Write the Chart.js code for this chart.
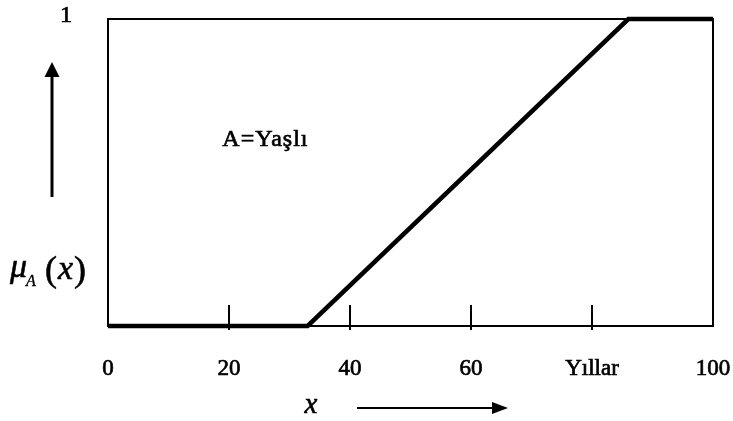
<!DOCTYPE html>
<html>
<head>
<meta charset="utf-8">
<script src="https://cdn.jsdelivr.net/npm/chart.js@4.4.1/dist/chart.umd.min.js"></script>
<style>
  html, body { margin: 0; padding: 0; background: #fff; }
  #wrap { width: 733px; height: 421px; position: relative; }
</style>
</head>
<body>
<div id="wrap"><canvas id="membershipChart"></canvas></div>
<script>
// "Yaşlı" (old) fuzzy set: membership degree over age
const ages = [0, 33, 86, 100];
const membership = [0, 0, 1, 1];
const tickAges = [20, 40, 60, 80];
const xTickLabels = { 0: '0', 20: '20', 40: '40', 60: '60', 80: 'Yıllar', 100: '100' };
const yTickLabels = { 1: '1' };
const setLabel = 'A=Yaşlı';

const serif = '"Liberation Serif", "DejaVu Serif", serif';

// keep the plot box fixed: no extra room for overhanging tick labels
const noPadding = s => { s.paddingTop = s.paddingBottom = s.paddingLeft = s.paddingRight = 0; };

// filled text with a thin outline so it reads a little heavier
function inkText(ctx, txt, x, y, w) {
    ctx.fillText(txt, x, y);
    ctx.lineWidth = w;
    ctx.strokeText(txt, x, y);
}

// box frame, inner tick marks, set label and axis arrows
const decorations = {
    id: 'decorations',
    beforeDatasetsDraw(chart) {
        const { ctx, chartArea: a, scales } = chart;
        ctx.save();
        ctx.strokeStyle = '#000';
        ctx.lineWidth = 2;
        ctx.strokeRect(a.left, a.top, a.right - a.left, a.bottom - a.top);

        tickAges.forEach(v => {
            const px = Math.round(scales.x.getPixelForValue(v));
            ctx.beginPath();
            ctx.moveTo(px, a.bottom - 21);
            ctx.lineTo(px, a.bottom + 4);
            ctx.stroke();
        });
        ctx.restore();
    },
    afterDraw(chart) {
        const { ctx, scales } = chart;
        ctx.save();
        ctx.fillStyle = '#000';
        ctx.strokeStyle = '#000';

        // set name inside the box
        ctx.font = '24px ' + serif;
        ctx.letterSpacing = '1px';
        ctx.textBaseline = 'alphabetic';
        ctx.textAlign = 'left';
        inkText(ctx, setLabel, scales.x.getPixelForValue(18.9), 146, 0.7);
        ctx.letterSpacing = '0px';

        // vertical arrow
        ctx.lineWidth = 3;
        ctx.beginPath();
        ctx.moveTo(52, 197);
        ctx.lineTo(52, 72);
        ctx.stroke();
        ctx.beginPath();
        ctx.moveTo(52, 62);
        ctx.lineTo(44.5, 77);
        ctx.lineTo(59.5, 77);
        ctx.closePath();
        ctx.fill();

        // μ_A(x)
        ctx.font = 'italic 34px ' + serif;
        inkText(ctx, 'μ', 10, 277, 0.6);
        ctx.font = 'italic 16px ' + serif;
        inkText(ctx, 'A', 26, 286, 0.4);
        ctx.font = '36px ' + serif;
        inkText(ctx, '(', 45, 281, 0.6);
        ctx.font = 'italic 34px ' + serif;
        inkText(ctx, 'x', 58, 279, 0.6);
        ctx.font = '36px ' + serif;
        inkText(ctx, ')', 74, 281, 0.6);

        // x with right arrow
        ctx.font = 'italic 29px ' + serif;
        ctx.textAlign = 'center';
        inkText(ctx, 'x', 311, 413, 0.6);
        ctx.lineWidth = 2;
        ctx.beginPath();
        ctx.moveTo(357, 408);
        ctx.lineTo(494, 408);
        ctx.stroke();
        ctx.beginPath();
        ctx.moveTo(508, 408);
        ctx.lineTo(492, 402);
        ctx.lineTo(492, 414);
        ctx.closePath();
        ctx.fill();
        ctx.restore();
    }
};

new Chart(document.getElementById('membershipChart'), {
    type: 'line',
    data: {
        datasets: [{
            data: ages.map((a, i) => ({ x: a, y: membership[i] })),
            borderColor: '#000',
            borderWidth: 4.5,
            pointRadius: 0,
            tension: 0,
            fill: false,
            clip: false
        }]
    },
    options: {
        responsive: true,
        maintainAspectRatio: false,
        animation: false,
        layout: { padding: { top: 19, right: 20, left: 0, bottom: 0 } },
        plugins: { legend: { display: false }, tooltip: { enabled: false } },
        scales: {
            x: {
                type: 'linear',
                min: 0,
                max: 100,
                grid: { display: false, drawTicks: false },
                border: { display: false },
                afterBuildTicks: s => { s.ticks = Object.keys(xTickLabels).map(v => ({ value: +v })); },
                afterFit: s => { s.height = 95; noPadding(s); },
                ticks: {
                    color: '#000',
                    padding: 29,
                    textStrokeColor: '#000',
                    textStrokeWidth: 0.7,
                    font: { family: serif, size: 23 },
                    callback: v => xTickLabels[v] ?? ''
                }
            },
            y: {
                type: 'linear',
                min: 0,
                max: 1,
                grid: { display: false, drawTicks: false },
                border: { display: false },
                afterBuildTicks: s => { s.ticks = [{ value: 1 }]; },
                afterFit: s => { s.width = 108; noPadding(s); },
                ticks: {
                    color: '#000',
                    padding: 36,
                    labelOffset: -3,
                    textStrokeColor: '#000',
                    textStrokeWidth: 0.7,
                    font: { family: serif, size: 24 },
                    callback: v => yTickLabels[v] ?? ''
                }
            }
        }
    },
    plugins: [decorations]
});
</script>
</body>
</html>
